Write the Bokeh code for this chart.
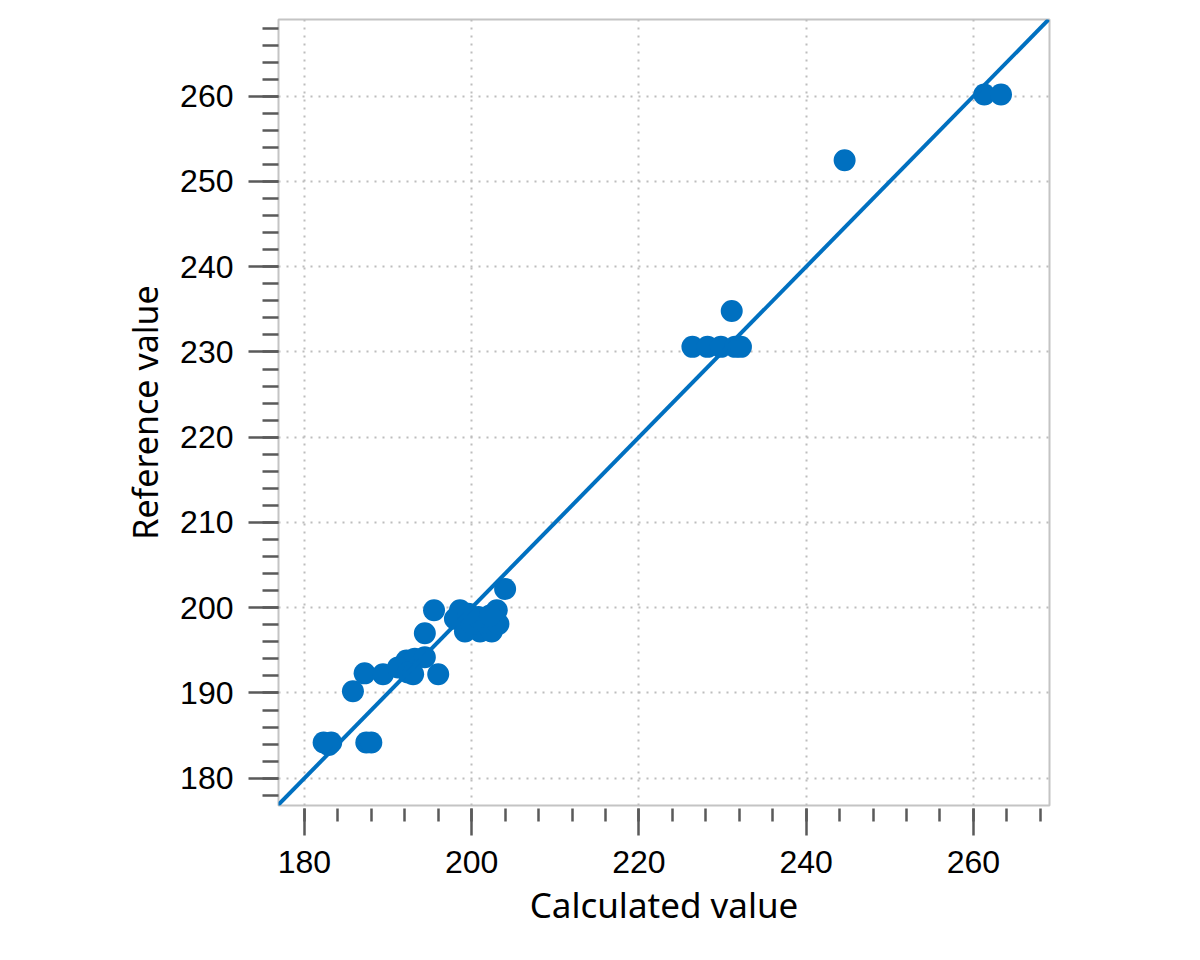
from bokeh.plotting import figure
from bokeh.models import Range1d, SingleIntervalTicker, Slope, ColumnDataSource
from bokeh.embed import file_html
from bokeh.resources import INLINE

# Data
calculated = [182.3, 183.2, 182.9, 187.4, 188.0, 185.8, 187.2, 189.4,
              192.2, 193.2, 194.4, 191.2, 192.4, 193.0, 196.0, 194.4, 195.5,
              198.6, 198.0, 204.0, 203.0, 199.2, 201.0, 202.4, 200.0, 201.6,
              203.2, 200.8, 202.2, 199.6,
              226.4, 228.2, 229.8, 231.5, 232.2, 231.1, 244.6, 261.3, 263.3]
reference = [184.2, 184.2, 183.9, 184.2, 184.2, 190.2, 192.3, 192.2,
             193.8, 194.0, 194.2, 193.0, 192.4, 192.2, 192.2, 197.0, 199.7,
             199.7, 198.7, 202.2, 199.7, 197.2, 197.2, 197.2, 198.1, 198.3,
             198.1, 198.9, 199.1, 199.3,
             230.6, 230.6, 230.6, 230.6, 230.6, 234.8, 252.5, 260.2, 260.2]
x_range_vals = [176.9, 269.1]
y_range_vals = [176.8, 269.0]
identity_slope = 1.0
identity_intercept = 0.0

BLUE = "#0070C0"
TICK = "#5a5a5a"

p = figure(width=1200, height=960, output_backend="svg", toolbar_location=None,
           x_range=Range1d(*x_range_vals), y_range=Range1d(*y_range_vals),
           min_border_left=278, min_border_right=151, min_border_top=19,
           min_border_bottom=155)

p.background_fill_color = "white"
p.border_fill_color = "white"
p.outline_line_color = "#c4c4c4"
p.outline_line_width = 2

src = ColumnDataSource(dict(x=calculated, y=reference))

p.add_layout(Slope(gradient=identity_slope, y_intercept=identity_intercept,
                   line_color=BLUE, line_width=4))
p.scatter("x", "y", source=src, size=22, fill_color=BLUE, line_color=BLUE,
          line_width=0)

p.xaxis.ticker = SingleIntervalTicker(interval=20, num_minor_ticks=5)
p.yaxis.ticker = SingleIntervalTicker(interval=10, num_minor_ticks=5)

for g in (p.xgrid, p.ygrid):
    g.grid_line_color = "#bdbdbd"
    g.grid_line_dash = "2 6"
    g.grid_line_width = 2

for ax in (p.xaxis, p.yaxis):
    ax.axis_line_color = None
    ax.major_tick_line_color = TICK
    ax.minor_tick_line_color = TICK
    ax.major_tick_line_width = 2.5
    ax.minor_tick_line_width = 2.5
    ax.major_label_text_font = "Liberation Sans"
    ax.major_label_text_font_size = "32px"
    ax.major_label_text_color = "black"
    ax.axis_label_text_font = "Noto Sans"
    ax.axis_label_text_font_style = "normal"
    ax.axis_label_text_color = "black"

p.xaxis.major_tick_in = -3
p.xaxis.major_tick_out = 30
p.xaxis.minor_tick_in = -3
p.xaxis.minor_tick_out = 16
p.xaxis.major_label_standoff = 15
p.xaxis.axis_label = "Calculated value"
p.xaxis.axis_label_text_font_size = "35px"
p.xaxis.axis_label_standoff = 5

p.yaxis.major_tick_in = 0
p.yaxis.major_tick_out = 30
p.yaxis.minor_tick_in = 0
p.yaxis.minor_tick_out = 16
p.yaxis.major_label_standoff = 15
p.yaxis.axis_label = "Reference value"
p.yaxis.axis_label_text_font_size = "34px"
p.yaxis.axis_label_standoff = 9

open("out.html", "w").write(file_html(p, INLINE))
